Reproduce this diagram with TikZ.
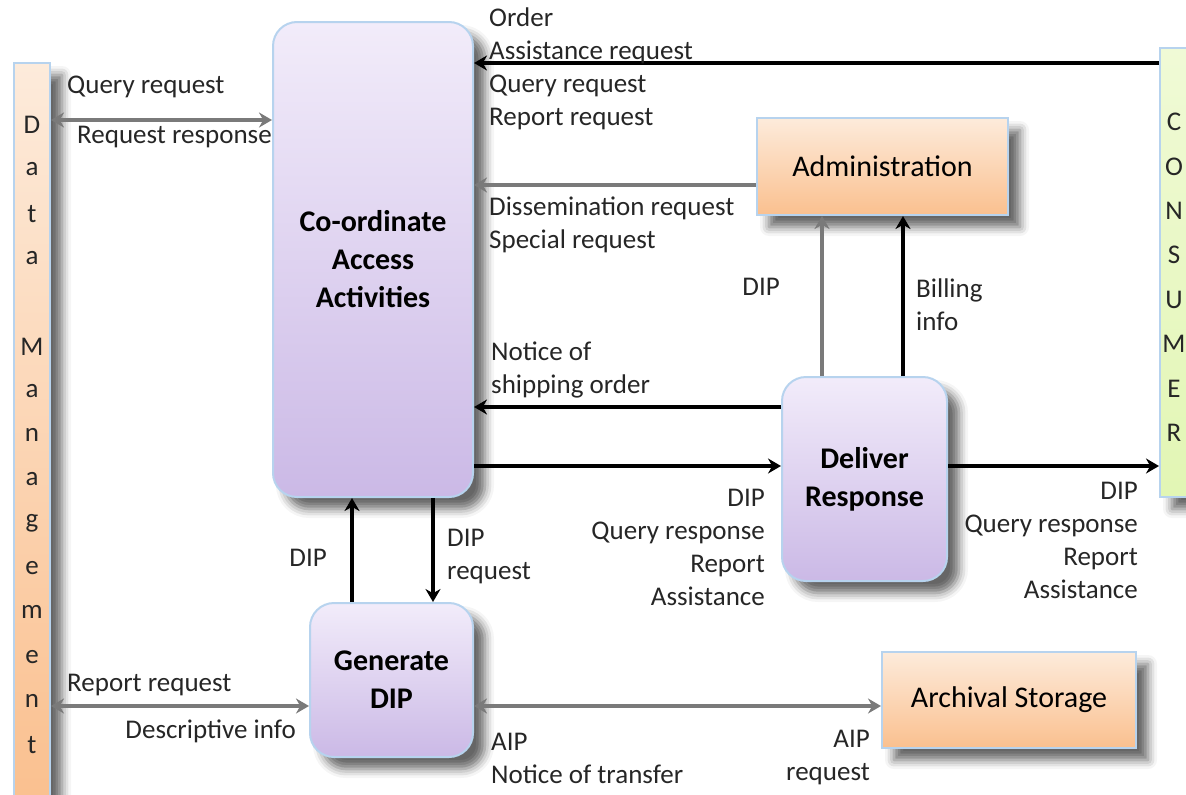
\documentclass[tikz,border=0pt]{standalone}
\usepackage{fontspec}
\setmainfont{Carlito}
\usetikzlibrary{arrows.meta,shadows.blur}
\definecolor{edgeblue}{HTML}{B7D3EE}
\definecolor{lilactop}{HTML}{F2ECFA}
\definecolor{lilacbot}{HTML}{CBB9E6}
\definecolor{peachtop}{HTML}{FDEBDB}
\definecolor{peachbot}{HTML}{FAC08F}
\definecolor{limetop}{HTML}{F0FAD6}
\definecolor{limebot}{HTML}{E2F6B4}
\definecolor{flowgray}{HTML}{7A7A7A}

\begin{document}
\begin{tikzpicture}[x=1pt,y=-1pt,>={Stealth[length=13pt,width=15pt]}]
\tikzstyle{soft}=[blur shadow={shadow xshift=12pt,shadow yshift=-12pt,shadow blur radius=9pt,shadow opacity=60}]
\tikzstyle{proc}=[rectangle,rounded corners=24pt,draw=edgeblue,line width=2pt,top color=lilactop,bottom color=lilacbot,align=center,font=\fontsize{30}{38}\selectfont\bfseries,soft]
\tikzstyle{store}=[rectangle,draw=edgeblue,line width=2pt,top color=peachtop,bottom color=peachbot,font=\fontsize{30}{38}\selectfont,soft]
\tikzstyle{side}=[rectangle,draw=edgeblue,line width=2pt,inner sep=0pt,soft]
\tikzstyle{letter}=[inner sep=0pt,font=\fontsize{27}{33}\selectfont,text=black!85]
\tikzstyle{lbl}=[inner sep=0pt,font=\fontsize{27}{33}\selectfont,text=black!85]
\tikzstyle{flow}=[line width=4pt,draw=black]
\tikzstyle{grayflow}=[line width=4pt,draw=flowgray]
\useasboundingbox (0,0) rectangle (1186,795);
% side entities
\node[side,top color=peachtop,bottom color=peachbot,minimum width=36pt,minimum height=740pt] (datamgmt) at (32,433) {};
\foreach \l [count=\i] in {D,a,t,a,{},M,a,n,a,g,e,m,e,n,t}
  \node[letter] (dm\i) at (32,{125+(\i-1)*44.3}) {\l};
\node[side,top color=limetop,bottom color=limebot,minimum width=46pt,minimum height=449pt] (consumer) at (1183,272.5) {};
\foreach \l [count=\i] in {C,O,N,S,U,M,E,R}
  \node[letter] (cs\i) at (1174,{122+(\i-1)*44.4}) {\l};
% functions
\node[proc,minimum width=200pt,minimum height=475pt] (coord) at (373,259.5) {Co-ordinate\\Access\\Activities};
\node[proc,minimum width=165pt,minimum height=204pt] (deliver) at (864.5,479) {Deliver\\Response};
\node[proc,minimum width=163pt,minimum height=154pt] (gendip) at (391.5,680) {Generate\\DIP};
\node[store,minimum width=251pt,minimum height=97pt] (admin) at (882.5,166.5) {Administration};
\node[store,minimum width=254pt,minimum height=96pt] (archival) at (1009,700) {Archival Storage};
% flows
\draw[grayflow,<->] (datamgmt.east |- 0,120) -- (coord.west |- 0,120);
\draw[flow,->] (consumer.west |- 0,63) -- (coord.east |- 0,63);
\draw[grayflow,->] (admin.west |- 0,185) -- (coord.east |- 0,185);
\draw[flow,->] (deliver.west |- 0,407) -- (coord.east |- 0,407);
\draw[flow,->] (coord.east |- 0,466) -- (deliver.west |- 0,466);
\draw[grayflow,->] (deliver.north -| 822,0) -- (admin.south -| 822,0);
\draw[flow,->] (deliver.north -| 903,0) -- (admin.south -| 903,0);
\draw[flow,->] (deliver.east |- 0,466) -- (consumer.west |- 0,466);
\draw[flow,->] (gendip.north -| 352,0) -- (coord.south -| 352,0);
\draw[flow,->] (coord.south -| 433,0) -- (gendip.north -| 433,0);
\draw[grayflow,<->] (datamgmt.east |- 0,706) -- (gendip.west |- 0,706);
\draw[grayflow,<->] (gendip.east |- 0,706) -- (archival.west |- 0,706);
% labels
\node[lbl,anchor=west] (qreq) at (67,87) {Query request};
\node[lbl,anchor=west] (qresp) at (77,137) {Request response};
\node[lbl,anchor=west,align=left] (orders) at (489,68.5) {Order\\Assistance request\\Query request\\Report request};
\node[lbl,anchor=west,align=left] (dissem) at (489,225) {Dissemination request\\Special request};
\node[lbl,anchor=west,align=left] (notice) at (491,369.5) {Notice of\\shipping order};
\node[lbl,anchor=east,align=right] (outleft) at (765,547.5) {DIP\\Query response\\Report\\Assistance};
\node[lbl,anchor=east,align=right] (outright) at (1138,540.5) {DIP\\Query response\\Report\\Assistance};
\node[lbl,anchor=east] (dipadm) at (780,287) {DIP};
\node[lbl,anchor=west,align=left] (billing) at (916,304.5) {Billing\\info};
\node[lbl,anchor=east] (dipup) at (327,558) {DIP};
\node[lbl,anchor=west,align=left] (dipreq) at (447,557) {DIP\\request};
\node[lbl,anchor=west] (rptreq) at (67,685) {Report request};
\node[lbl,anchor=east] (descinfo) at (296,731) {Descriptive info};
\node[lbl,anchor=west,align=left] (aipout) at (491,758) {AIP\\Notice of transfer};
\node[lbl,anchor=east,align=right] (aipreq) at (870,758) {AIP\\request};
\end{tikzpicture}
\end{document}
